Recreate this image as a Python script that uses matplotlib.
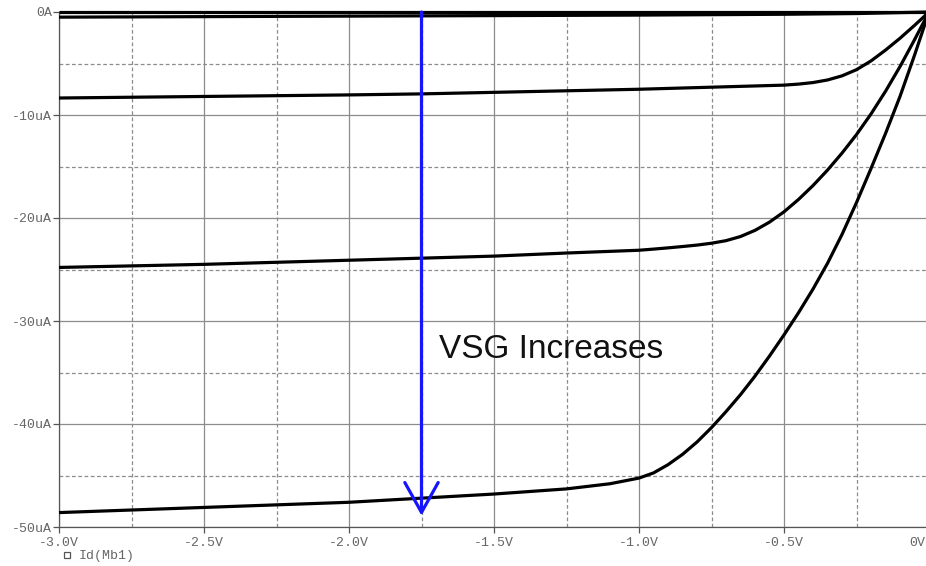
import numpy as np
import matplotlib.pyplot as plt
from matplotlib.lines import Line2D

# Id(Mb1) vs drain voltage, one curve per VSG step
v_c1 = [-3.0, 0.0]
i_c1 = [0.0, 0.0]

v_c2 = [-3.0, -2.0, -1.0, -0.5, -0.25, 0.0]
i_c2 = [-0.5, -0.4, -0.3, -0.22, -0.15, 0.0]

v_c3 = [-3.0, -2.5, -2.0, -1.75, -1.5, -1.0, -0.75, -0.5, -0.45, -0.4, -0.35,
        -0.3, -0.25, -0.2, -0.15, -0.1, -0.05, 0.0]
i_c3 = [-8.35, -8.2, -8.05, -7.95, -7.8, -7.5, -7.3, -7.1, -7.0, -6.85, -6.6,
        -6.2, -5.6, -4.75, -3.7, -2.55, -1.3, 0.0]

v_c4 = [-3.0, -2.5, -2.0, -1.75, -1.5, -1.25, -1.0, -0.95, -0.9, -0.85, -0.8,
        -0.75, -0.7, -0.65, -0.6, -0.55, -0.5, -0.45, -0.4, -0.35, -0.3,
        -0.25, -0.2, -0.15, -0.1, -0.05, 0.0]
i_c4 = [-24.8, -24.5, -24.1, -23.9, -23.7, -23.4, -23.13, -23.02, -22.9, -22.77, -22.63,
        -22.45, -22.2, -21.8, -21.2, -20.4, -19.4, -18.2, -16.85, -15.35, -13.7,
        -11.9, -9.9, -7.7, -5.3, -2.7, 0.0]

v_c5 = [-3.0, -2.5, -2.0, -1.75, -1.5, -1.25, -1.1, -1.0, -0.95, -0.9, -0.85,
        -0.8, -0.75, -0.7, -0.65, -0.6, -0.55, -0.5, -0.45, -0.4, -0.35, -0.3,
        -0.25, -0.2, -0.15, -0.1, -0.05, 0.0]
i_c5 = [-48.6, -48.1, -47.6, -47.2, -46.8, -46.3, -45.8, -45.25, -44.75, -43.95, -42.95,
        -41.75, -40.35, -38.8, -37.15, -35.35, -33.4, -31.35, -29.2, -26.9, -24.4, -21.6,
        -18.5, -15.2, -11.8, -8.2, -4.2, 0.0]

curves = [(v_c1, i_c1), (v_c2, i_c2), (v_c3, i_c3), (v_c4, i_c4), (v_c5, i_c5)]

x_ticks = [-3.0, -2.5, -2.0, -1.5, -1.0, -0.5, 0.0]
x_labels = ['-3.0V', '-2.5V', '-2.0V', '-1.5V', '-1.0V', '-0.5V', '0V']
y_ticks = [-50, -40, -30, -20, -10, 0]
y_labels = ['-50uA', '-40uA', '-30uA', '-20uA', '-10uA', '0A']

arrow_v = -1.75
arrow_top, arrow_bot = 0.0, -48.9

W, H = 926, 566
fig = plt.figure(figsize=(W / 100, H / 100), dpi=100)
# axes box: x from px 59 to 929 (right edge runs just past the picture), y from 12 to 527
ax = fig.add_axes([59 / W, (H - 527) / H, (929 - 59) / W, (527 - 12) / H])

grid_col = '#8c8c8c'
ax.set_axisbelow(True)
ax.set_xticks(np.arange(-3.0, 0.01, 0.25), minor=True)
ax.set_yticks(np.arange(-50, 0.1, 5), minor=True)
ax.grid(which='major', color=grid_col, lw=0.9, ls='-')
ax.grid(which='minor', color=grid_col, lw=0.9, ls=(0, (3, 2)))

for v, i in curves:
    ax.plot(v, i, color='black', lw=2.3, solid_capstyle='butt', clip_on=False, zorder=3)

ax.set_xlim(-3.0, 0.0)
ax.set_ylim(-50, 0)

mono = ['Liberation Mono', 'DejaVu Sans Mono']
# last x label sits at the clipped right edge -> drawn separately, pulled in a bit
ax.set_xticks(x_ticks, x_labels[:-1] + [''])
ax.set_yticks(y_ticks, y_labels)
ax.tick_params(which='major', length=4, width=0.9, color='#555555',
               labelcolor='#666666', labelsize=9.5)
ax.tick_params(axis='y', pad=1)
ax.tick_params(which='minor', length=0)
for lab in ax.get_xticklabels() + ax.get_yticklabels():
    lab.set_family(mono)
ax.annotate(x_labels[-1], xy=(x_ticks[-1], 0), xycoords=('data', 'axes fraction'),
            xytext=(-3, -7.5), textcoords='offset points', ha='right', va='top',
            family=mono, fontsize=9.5, color='#666666', annotation_clip=False)

for s in ax.spines.values():
    s.set_color('#555555')
    s.set_linewidth(0.9)

# blue arrow + note
ax.annotate('', xy=(arrow_v, arrow_bot), xytext=(arrow_v, arrow_top),
            arrowprops=dict(arrowstyle='->,head_length=0.43,head_width=0.24',
                            mutation_scale=50, color='#1515ff', lw=2.3,
                            shrinkA=0, shrinkB=0),
            zorder=4, annotation_clip=False)
ax.text(-1.69, -33.6, 'VSG Increases', fontsize=24, family='Liberation Sans',
        ha='left', va='baseline', color='#111111', zorder=5)

# trace legend under the axis
h = Line2D([], [], ls='none', marker='s', ms=4, mfc='white', mec='#555555', mew=0.9)
leg = fig.legend([h], ['Id(Mb1)'], loc='center left', bbox_to_anchor=(55 / W, 10 / H),
                 frameon=False, handlelength=0.8, handletextpad=0.5, borderpad=0,
                 prop={'family': mono, 'size': 9.5})
for t in leg.get_texts():
    t.set_color('#666666')

fig.savefig('out.png', dpi=100)
